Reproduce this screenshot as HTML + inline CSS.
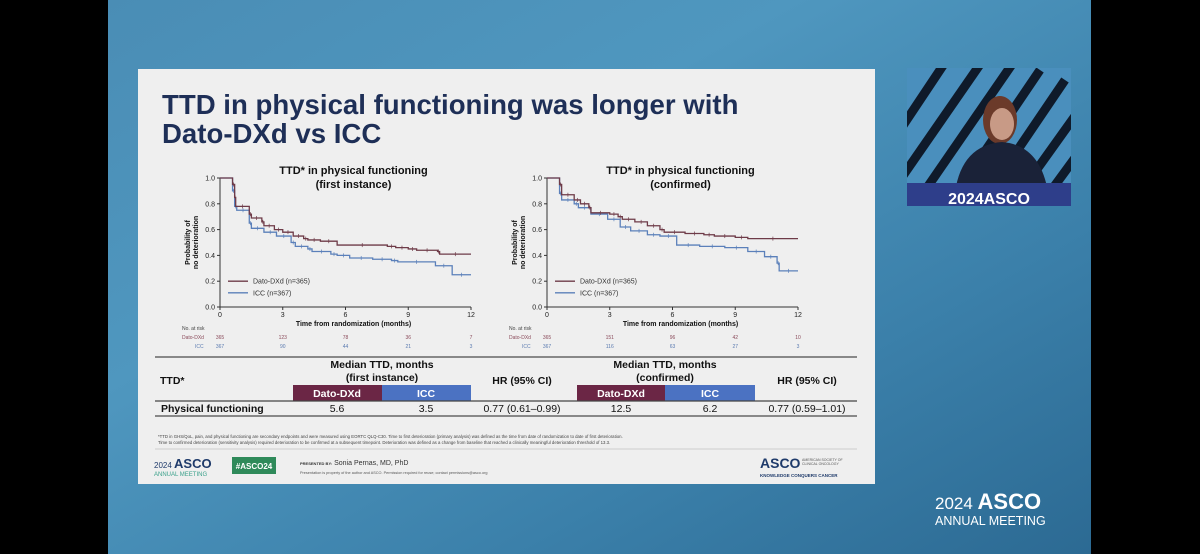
<!DOCTYPE html>
<html><head><meta charset="utf-8"><style>
html,body{margin:0;padding:0;width:1200px;height:554px;overflow:hidden;background:#000}
svg{display:block;font-family:"Liberation Sans",sans-serif}
</style></head><body>
<svg width="1200" height="554" viewBox="0 0 1200 554">
<defs>
<linearGradient id="bg" x1="0" y1="0" x2="1" y2="1">
<stop offset="0" stop-color="#4a8db5"/><stop offset="0.35" stop-color="#4f97bf"/><stop offset="0.7" stop-color="#3b80aa"/><stop offset="1" stop-color="#2c6a93"/>
</linearGradient>
<clipPath id="vc"><rect x="907" y="68" width="164" height="138"/></clipPath>
</defs>
<rect x="0" y="0" width="1200" height="554" fill="#000"/>
<rect x="108" y="0" width="983" height="554" fill="url(#bg)"/>

<g clip-path="url(#vc)">
<rect x="907" y="68" width="164" height="138" fill="#4a8fbd"/>
<g stroke="#0f1a2a" stroke-width="9">
<line x1="880" y1="160" x2="960" y2="40"/><line x1="900" y1="180" x2="990" y2="50"/>
<line x1="915" y1="205" x2="1015" y2="60"/><line x1="935" y1="225" x2="1040" y2="70"/>
<line x1="960" y1="235" x2="1065" y2="80"/><line x1="990" y1="235" x2="1090" y2="95"/>
<line x1="1015" y1="240" x2="1110" y2="110"/>
</g>
<ellipse cx="1000" cy="120" rx="17" ry="24" fill="#6b3a2a"/>
<ellipse cx="1002" cy="124" rx="12" ry="16" fill="#c89a86"/>
<path d="M955 192 Q962 145 1002 142 Q1040 145 1048 192 Z" fill="#1a2238"/>
<rect x="907" y="183" width="164" height="23" fill="#2e3e8a"/>
<text x="989" y="204" text-anchor="middle" fill="#fff" font-size="16" font-weight="bold">2024ASCO</text>
</g>

<g>
<rect x="138" y="69" width="737" height="415" fill="#efefef"/>
<text x="162" y="114" fill="#1e2f57" font-size="27.6" font-weight="bold">TTD in physical functioning was longer with</text>
<text x="162" y="143" fill="#1e2f57" font-size="27.6" font-weight="bold">Dato-DXd vs ICC</text>
<g id="charts"></g>

<g font-size="10.5" fill="#111">
<line x1="155" y1="357" x2="857" y2="357" stroke="#666" stroke-width="1.5"/>
<text x="160" y="384" font-weight="bold">TTD*</text>
<text x="382" y="368" text-anchor="middle" font-weight="bold">Median TTD, months</text>
<text x="382" y="381" text-anchor="middle" font-weight="bold">(first instance)</text>
<text x="522" y="384" text-anchor="middle" font-weight="bold">HR (95% CI)</text>
<text x="665" y="368" text-anchor="middle" font-weight="bold">Median TTD, months</text>
<text x="665" y="381" text-anchor="middle" font-weight="bold">(confirmed)</text>
<text x="807" y="384" text-anchor="middle" font-weight="bold">HR (95% CI)</text>
<rect x="293" y="385" width="89" height="16" fill="#6b2645"/>
<rect x="382" y="385" width="89" height="16" fill="#4b72c2"/>
<rect x="577" y="385" width="88" height="16" fill="#6b2645"/>
<rect x="665" y="385" width="90" height="16" fill="#4b72c2"/>
<g fill="#fff" font-weight="bold" text-anchor="middle">
<text x="337" y="397">Dato-DXd</text><text x="426" y="397">ICC</text>
<text x="621" y="397">Dato-DXd</text><text x="710" y="397">ICC</text>
</g>
<line x1="155" y1="401" x2="857" y2="401" stroke="#444" stroke-width="1.2"/>
<text x="161" y="412" font-weight="bold">Physical functioning</text>
<text x="337" y="412" text-anchor="middle">5.6</text>
<text x="426" y="412" text-anchor="middle">3.5</text>
<text x="522" y="412" text-anchor="middle">0.77 (0.61–0.99)</text>
<text x="621" y="412" text-anchor="middle">12.5</text>
<text x="710" y="412" text-anchor="middle">6.2</text>
<text x="807" y="412" text-anchor="middle">0.77 (0.59–1.01)</text>
<line x1="155" y1="416" x2="857" y2="416" stroke="#666" stroke-width="1.5"/>
</g>
<g font-size="4.3" fill="#444">
<text x="158" y="438">*TTD in GHS/QoL, pain, and physical functioning are secondary endpoints and were measured using EORTC QLQ-C30. Time to first deterioration (primary analysis) was defined as the time from date of randomization to date of first deterioration.</text>
<text x="158" y="444">Time to confirmed deterioration (sensitivity analysis) required deterioration to be confirmed at a subsequent timepoint. Deterioration was defined as a change from baseline that reached a clinically meaningful deterioration threshold of 13.3.</text>
</g>
<line x1="155" y1="449" x2="857" y2="449" stroke="#ccc"/>
<g>
<text x="154" y="468" font-size="8" fill="#1e3a6a">2024 <tspan font-size="13" font-weight="bold">ASCO</tspan></text>
<text x="154" y="476" font-size="6" fill="#3aa08a">ANNUAL MEETING</text>
<rect x="232" y="457" width="44" height="17" fill="#2f8a5a"/>
<text x="254" y="469" text-anchor="middle" font-size="8" fill="#fff" font-weight="bold">#ASCO24</text>
<text x="300" y="465" font-size="7" fill="#333"><tspan font-size="4" font-weight="bold">PRESENTED BY:</tspan> Sonia Pernas, MD, PhD</text>
<text x="300" y="474" font-size="3.8" fill="#555">Presentation is property of the author and ASCO. Permission required for reuse; contact permissions@asco.org</text>
<text x="760" y="468" font-size="14" font-weight="bold" fill="#1e3a6a">ASCO</text>
<text x="802" y="461" font-size="3.5" fill="#555">AMERICAN SOCIETY OF</text>
<text x="802" y="465" font-size="3.5" fill="#555">CLINICAL ONCOLOGY</text>
<text x="760" y="477" font-size="4.5" fill="#1e3a6a" font-weight="bold">KNOWLEDGE CONQUERS CANCER</text>
</g>
</g>

<g fill="#fff">
<text x="935" y="509" font-size="17">2024 <tspan font-size="22" font-weight="bold">ASCO</tspan></text>
<text x="935" y="525" font-size="12.5">ANNUAL MEETING</text>
</g>
</svg>
<script>
// Chart 1: first instance
const months = [0, 3, 6, 9, 12];
const yTicks = [0.0, 0.2, 0.4, 0.6, 0.8, 1.0];
const dato1T = [0, 0.6, 0.7, 0.75, 1.4, 1.5, 2.0, 2.1, 2.6, 3.0, 3.5, 4.0, 4.2, 4.8, 5.6, 8.0, 8.4, 9.0, 9.4, 10.4, 10.5, 12];
const dato1S = [1, 0.95, 0.85, 0.78, 0.72, 0.69, 0.66, 0.63, 0.60, 0.58, 0.55, 0.53, 0.52, 0.51, 0.48, 0.47, 0.46, 0.45, 0.44, 0.43, 0.41, 0.41];
const icc1T = [0, 0.6, 0.7, 0.8, 1.4, 1.5, 2.1, 2.7, 3.4, 3.6, 4.2, 4.4, 5.3, 5.6, 6.2, 7.3, 8.2, 8.5, 10.3, 11.1, 12];
const icc1S = [1, 0.9, 0.78, 0.75, 0.65, 0.61, 0.58, 0.55, 0.50, 0.47, 0.45, 0.43, 0.41, 0.40, 0.38, 0.37, 0.36, 0.35, 0.32, 0.25, 0.25];
const risk1Dato = [365, 123, 78, 36, 7];
const risk1Icc = [367, 90, 44, 21, 3];
// Chart 2: confirmed
const dato2T = [0, 0.6, 0.7, 1.3, 1.6, 2.0, 2.1, 3.0, 3.4, 3.6, 4.2, 4.8, 5.4, 5.6, 6.6, 7.5, 8.0, 9.0, 9.6, 12];
const dato2S = [1, 0.95, 0.87, 0.83, 0.80, 0.77, 0.73, 0.72, 0.70, 0.68, 0.66, 0.63, 0.60, 0.58, 0.57, 0.56, 0.55, 0.54, 0.53, 0.53];
const icc2T = [0, 0.6, 0.7, 1.3, 1.5, 2.1, 2.9, 3.5, 4.0, 4.8, 5.4, 6.2, 7.3, 8.5, 9.6, 10.4, 11.0, 11.1, 12];
const icc2S = [1, 0.88, 0.83, 0.80, 0.77, 0.72, 0.68, 0.62, 0.59, 0.56, 0.55, 0.48, 0.47, 0.46, 0.43, 0.39, 0.34, 0.28, 0.28];
const risk2Dato = [365, 151, 96, 42, 10];
const risk2Icc = [367, 116, 63, 27, 3];

const NS = 'http://www.w3.org/2000/svg';
const root = document.getElementById('charts');
function mk(tag, attrs, parent, txt) {
  const e = document.createElementNS(NS, tag);
  for (const k in attrs) e.setAttribute(k, attrs[k]);
  if (txt !== undefined) e.textContent = txt;
  parent.appendChild(e);
  return e;
}
function drawChart(x0, x1, y0, y1, title2, dT, dS, iT, iS, rD, rI, name) {
  const g = mk('g', {}, root);
  
  
  const sx = t => x0 + (x1 - x0) * t / 12;
  const sy = v => y0 + (y1 - y0) * v;
  const cx = (x0 + x1) / 2 + 8;
  const t1 = mk('text', {x: cx, y: 174, 'text-anchor': 'middle', 'font-size': 11, 'font-weight': 'bold', fill: '#111'}, g, 'TTD* in physical functioning');
  
  
  mk('text', {x: cx, y: 188, 'text-anchor': 'middle', 'font-size': 11, 'font-weight': 'bold', fill: '#111'}, g, title2);
  mk('line', {x1: x0, y1: sy(0), x2: x0, y2: sy(1), stroke: '#333', 'stroke-width': 1}, g);
  mk('line', {x1: x0, y1: sy(0), x2: x1, y2: sy(0), stroke: '#333', 'stroke-width': 1}, g);
  yTicks.forEach(v => {
    mk('line', {x1: x0 - 3, y1: sy(v), x2: x0, y2: sy(v), stroke: '#333'}, g);
    const t = mk('text', {x: x0 - 5, y: sy(v) + 2.5, 'text-anchor': 'end', 'font-size': 7, fill: '#222'}, g, v.toFixed(1));
    
    
  });
  months.forEach((m, i) => {
    mk('line', {x1: sx(m), y1: sy(0), x2: sx(m), y2: sy(0) + 3, stroke: '#333'}, g);
    const t = mk('text', {x: sx(m), y: sy(0) + 10, 'text-anchor': 'middle', 'font-size': 7, fill: '#222'}, g, m);
    
    
    mk('text', {x: sx(m), y: 339, 'text-anchor': 'middle', 'font-size': 5, fill: '#8a4a5a'}, g, rD[i]);
    mk('text', {x: sx(m), y: 348, 'text-anchor': 'middle', 'font-size': 5, fill: '#5a7ab0'}, g, rI[i]);
  });
  mk('text', {x: x0 - 38, y: 330, 'font-size': 5, fill: '#444'}, g, 'No. at risk');
  mk('text', {x: x0 - 38, y: 339, 'font-size': 5, fill: '#8a4a5a'}, g, 'Dato-DXd');
  mk('text', {x: x0 - 25, y: 348, 'font-size': 5, fill: '#5a7ab0'}, g, 'ICC');
  const xl = mk('text', {x: cx, y: sy(0) + 19, 'text-anchor': 'middle', 'font-size': 7, 'font-weight': 'bold', fill: '#111'}, g, 'Time from randomization (months)');
  
  
  const yl = mk('text', {transform: `translate(${x0 - 26},${sy(0.5)}) rotate(-90)`, 'text-anchor': 'middle', 'font-size': 7, 'font-weight': 'bold', fill: '#111'}, g);
  
  
  mk('tspan', {x: 0, y: -4}, yl, 'Probability of');
  mk('tspan', {x: 0, y: 4}, yl, 'no deterioration');
  function step(T, S, color, nm) {
    let d = `M${sx(T[0])},${sy(S[0])}`;
    for (let i = 1; i < T.length; i++) d += ` H${sx(T[i])} V${sy(S[i])}`;
    const p = mk('path', {d: d, fill: 'none', stroke: color, 'stroke-width': 1.3}, g);
    
    
    for (let i = 1; i < T.length - 1; i++) {
      const xm = sx((T[i] + T[i + 1]) / 2);
      mk('line', {x1: xm, y1: sy(S[i]) - 2, x2: xm, y2: sy(S[i]) + 2, stroke: color, 'stroke-width': 0.7}, g);
    }
  }
  step(iT, iS, '#5b80ba', 'icc-curve');
  step(dT, dS, '#6e3b48', 'dato-curve');
  const lx = x0 + 8;
  mk('line', {x1: lx, y1: sy(0.2), x2: lx + 20, y2: sy(0.2), stroke: '#6e3b48', 'stroke-width': 1.3}, g);
  const l1 = mk('text', {x: lx + 25, y: sy(0.2) + 2.5, 'font-size': 7, fill: '#333'}, g, 'Dato-DXd (n=365)');
  
  
  mk('line', {x1: lx, y1: sy(0.11), x2: lx + 20, y2: sy(0.11), stroke: '#5b80ba', 'stroke-width': 1.3}, g);
  const l2 = mk('text', {x: lx + 25, y: sy(0.11) + 2.5, 'font-size': 7, fill: '#333'}, g, 'ICC (n=367)');
  
  
}
drawChart(220, 471, 307, 178, '(first instance)', dato1T, dato1S, icc1T, icc1S, risk1Dato, risk1Icc, 'km-chart-first-instance');
drawChart(547, 798, 307, 178, '(confirmed)', dato2T, dato2S, icc2T, icc2S, risk2Dato, risk2Icc, 'km-chart-confirmed');
</script>
</body></html>
